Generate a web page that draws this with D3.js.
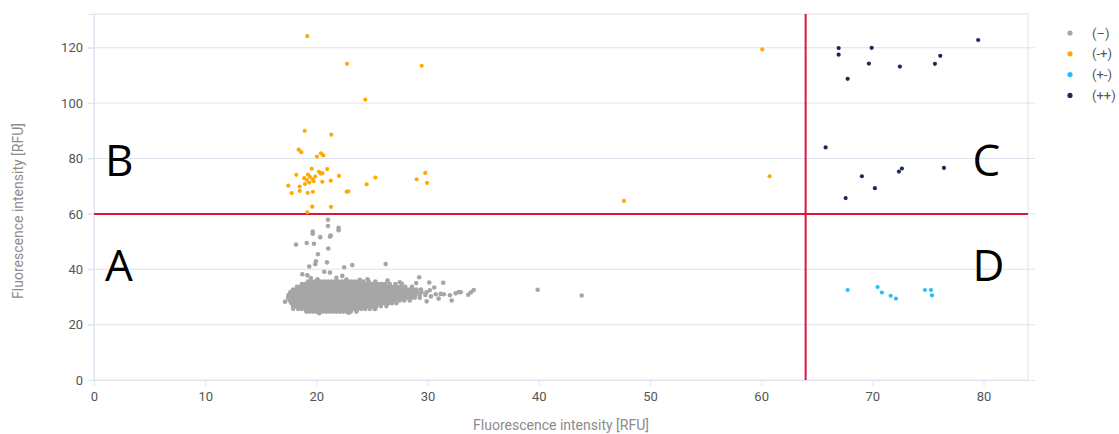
<!DOCTYPE html>
<html>
<head>
<meta charset="utf-8">
<script src="https://cdn.jsdelivr.net/npm/d3@7"></script>
<style>
  html, body { margin: 0; padding: 0; background: #fff; }
  svg { display: block; font-family: Roboto, "Noto Sans", sans-serif; }
</style>
</head>
<body>
<svg id="chart" width="1119" height="434"></svg>
<script>
// Two-channel fluorescence scatter, split into quadrants A–D by threshold lines.

const xTicks = [0, 10, 20, 30, 40, 50, 60, 70, 80];
const yTicks = [0, 20, 40, 60, 80, 100, 120];
const xThreshold = 64;
const yThreshold = 60;

const seriesNames = ["(–)", "(-+)", "(+-)", "(++)"];
const seriesColors = ["#a6a6a6", "#ffaa00", "#1ec3f3", "#1b2a5a"];

// (–) dense population: rows of [y, x values]
const negRows = [
  [24.7, [19.1,19.4,19.7,20.0,20.3,20.6,20.9,21.2,21.5,21.8,22.1,22.4,22.7,23.1,23.6]],
  [25.7, [18.35,18.65,18.95,19.25,19.55,19.85,20.15,20.45,20.75,21.05,21.35,21.65,21.95,22.25,22.55,22.85,23.15,23.45,23.75,24.05,24.4,24.8,25.3]],
  [26.7, [17.9,18.2,18.5,18.8,19.1,19.4,19.7,20.0,20.3,20.6,20.9,21.2,21.5,21.8,22.1,22.4,22.7,23.0,23.3,23.6,23.9,24.2,24.5,24.8,25.1,25.4,25.8,26.3]],
  [27.7, [17.75,18.05,18.35,18.65,18.95,19.25,19.55,19.85,20.15,20.45,20.75,21.05,21.35,21.65,21.95,22.25,22.55,22.85,23.15,23.45,23.75,24.05,24.35,24.65,24.95,25.25,25.55,25.85,26.15,26.45,26.8,27.2]],
  [28.7, [17.6,17.9,18.2,18.5,18.8,19.1,19.4,19.7,20.0,20.3,20.6,20.9,21.2,21.5,21.8,22.1,22.4,22.7,23.0,23.3,23.6,23.9,24.2,24.5,24.8,25.1,25.4,25.7,26.0,26.3,26.6,26.9,27.2,27.5,27.9,28.4]],
  [29.7, [17.45,17.75,18.05,18.35,18.65,18.95,19.25,19.55,19.85,20.15,20.45,20.75,21.05,21.35,21.65,21.95,22.25,22.55,22.85,23.15,23.45,23.75,24.05,24.35,24.65,24.95,25.25,25.55,25.85,26.15,26.45,26.75,27.05,27.35,27.65,27.95,28.25,28.55,28.85,29.3]],
  [30.7, [17.5,17.8,18.1,18.4,18.7,19.0,19.3,19.6,19.9,20.2,20.5,20.8,21.1,21.4,21.7,22.0,22.3,22.6,22.9,23.2,23.5,23.8,24.1,24.4,24.7,25.0,25.3,25.6,25.9,26.2,26.5,26.8,27.1,27.4,27.7,28.0,28.3,28.6,28.9,29.3,29.8]],
  [31.7, [17.65,17.95,18.25,18.55,18.85,19.15,19.45,19.75,20.05,20.35,20.65,20.95,21.25,21.55,21.85,22.15,22.45,22.75,23.05,23.35,23.65,23.95,24.25,24.55,24.85,25.15,25.45,25.75,26.05,26.35,26.65,26.95,27.25,27.55,27.85,28.15,28.45,28.75,29.05,29.45,29.9]],
  [32.7, [17.9,18.2,18.5,18.8,19.1,19.4,19.7,20.0,20.3,20.6,20.9,21.2,21.5,21.8,22.1,22.4,22.7,23.0,23.3,23.6,23.9,24.2,24.5,24.8,25.1,25.4,25.7,26.0,26.3,26.6,26.9,27.2,27.5,27.8,28.1,28.4,28.7,29.0,29.4]],
  [33.7, [18.25,18.55,18.85,19.15,19.45,19.75,20.05,20.35,20.65,20.95,21.25,21.55,21.85,22.15,22.45,22.75,23.05,23.35,23.65,23.95,24.25,24.55,24.85,25.15,25.45,25.75,26.05,26.35,26.65,26.95,27.25,27.6,28.0,28.6]],
  [34.7, [18.7,19.0,19.3,19.6,19.9,20.2,20.5,20.8,21.1,21.4,21.7,22.0,22.3,22.6,22.9,23.2,23.5,23.8,24.1,24.4,24.7,25.0,25.3,25.6,25.9,26.2,26.6,27.1,27.7]],
  [35.6, [19.25,19.55,19.85,20.15,20.45,20.75,21.05,21.35,21.65,21.95,22.25,22.55,22.85,23.15,23.45,23.8,24.2,24.7,25.3]]
];

// (–) scattered events around the main population
const negSparse = [
  [21.04,57.9],[21.04,55.6],[22.0,55.0],[22.0,54.1],[19.67,53.6],[19.67,52.8],
  [20.35,51.6],[21.22,51.8],[21.29,52.2],[18.17,48.9],[19.13,49.5],[19.78,49.2],
  [21.07,47.5],[20.14,45.4],[19.96,42.9],[19.9,41.8],[20.95,42.5],[19.36,41.0],
  [22.5,40.7],[23.23,41.5],[18.73,38.2],[19.18,37.8],[20.71,39.1],[21.22,38.8],
  [22.33,37.6],[26.23,41.9],[19.5,36.8],[21.8,36.9],[24.6,36.4],[20.1,36.4],
  [22.7,36.3],[23.9,36.2],[26.4,35.9],[27.5,35.3],
  [17.18,28.3],[17.5,30.0],[17.92,25.7],[25.22,25.7],[20.26,24.1],[22.9,24.3],
  [29.25,37.1],[30.15,35.2],[31.41,35.1],[28.98,35.0],[29.92,28.4],[30.73,31.0],
  [31.18,31.1],[31.47,31.0],[32.01,30.6],[32.17,28.7],[32.53,31.3],[32.8,31.8],
  [32.98,31.7],[33.66,30.8],[33.9,31.7],[34.15,32.5],[30.3,30.2],[30.6,33.4],
  [31.0,29.4],[30.2,32.4],[39.9,32.6],[43.86,30.5]
];

// (-+) events
const negPos = [
  [19.18,124.2],[22.75,114.2],[29.47,113.5],[24.4,101.3],[18.95,90.0],[21.34,88.6],
  [18.41,83.2],[18.64,82.3],[20.05,80.7],[20.41,81.9],[20.62,81.1],[19.58,76.3],
  [20.98,76.2],[18.19,74.1],[20.23,75.2],[20.39,74.5],[20.53,74.7],[22.03,73.7],
  [19.24,74.2],[18.91,72.9],[19.13,72.3],[19.42,73.4],[19.67,72.5],[19.9,73.5],
  [18.97,70.8],[19.36,71.3],[19.76,71.8],[20.53,71.6],[21.29,72.0],[17.47,70.2],
  [18.5,69.9],[18.5,68.3],[17.78,67.5],[19.22,67.6],[19.69,68.0],[22.72,68.0],
  [22.87,68.1],[24.52,70.7],[25.3,73.1],[29.02,72.5],[29.79,74.8],[29.95,71.2],
  [19.63,62.6],[21.31,62.5],[19.18,60.6],[60.1,119.4],[60.76,73.6],[47.66,64.7]
];

// (+-) events
const posNeg = [
  [67.78,32.5],[70.47,33.6],[70.86,31.6],[71.65,30.4],[72.12,29.4],
  [74.73,32.5],[75.27,32.5],[75.36,30.6]
];

// (++) events
const posPos = [
  [66.97,119.9],[66.97,117.5],[69.94,120.0],[69.69,114.3],[67.78,108.8],
  [72.48,113.2],[75.63,114.2],[76.11,117.1],[79.52,122.8],[65.8,84.0],
  [69.06,73.6],[70.23,69.3],[67.6,65.7],[72.39,75.3],[72.66,76.4],[76.44,76.6]
];

const quadrantLabels = [
  { text: "A", x: 1.0, y: 40.0 },
  { text: "B", x: 1.0, y: 78.0 },
  { text: "C", x: 79.0, y: 78.0 },
  { text: "D", x: 79.0, y: 40.0 }
];

const svg = d3.select("#chart");
const W = 1119, H = 434;
const margin = { left: 94, right: W - 1028, top: 14, bottom: H - 380 };
const x = d3.scaleLinear().domain([0, 84]).range([margin.left, W - margin.right]);
const y = d3.scaleLinear().domain([0, 132.2]).range([H - margin.bottom, margin.top]);

const gridColor = "#e1e2f0";

// horizontal grid lines (with a short overhang on both sides)
svg.append("g")
  .selectAll("line")
  .data(yTicks.filter(d => d > 0))
  .join("line")
  .attr("x1", x(0) - 6).attr("x2", x.range()[1] + 7)
  .attr("y1", d => y(d)).attr("y2", d => y(d))
  .attr("stroke", gridColor).attr("stroke-width", 1);

// plot frame
svg.append("rect")
  .attr("x", x(0)).attr("y", margin.top)
  .attr("width", x.range()[1] - x(0))
  .attr("height", y(0) - margin.top)
  .attr("fill", "none").attr("stroke", gridColor).attr("stroke-width", 1);

// axes
const xAxis = svg.append("g")
  .attr("transform", `translate(0,${y(0)})`)
  .call(d3.axisBottom(x).tickValues(xTicks).tickSize(6).tickPadding(6).tickFormat(d3.format("d")));
const yAxis = svg.append("g")
  .attr("transform", `translate(${x(0)},0)`)
  .call(d3.axisLeft(y).tickValues(yTicks).tickSize(6).tickPadding(5).tickFormat(d3.format("d")));

[xAxis, yAxis].forEach(g => {
  g.select(".domain").attr("stroke", gridColor);
  g.selectAll(".tick line").attr("stroke", gridColor);
  g.selectAll(".tick text")
    .attr("fill", "#555")
    .style("font-family", "Roboto, sans-serif")
    .style("font-size", "13px");
});
xAxis.select(".domain").attr("d", `M${x(0)},0.5H${x.range()[1] + 7}`);

// axis titles
svg.append("text")
  .attr("x", (x(0) + x.range()[1]) / 2).attr("y", 430)
  .attr("text-anchor", "middle")
  .attr("fill", "#8c8c8c").style("font-size", "14px")
  .text("Fluorescence intensity [RFU]");
svg.append("text")
  .attr("transform", `translate(23,${(y(0) + margin.top) / 2 + 14}) rotate(-90)`)
  .attr("text-anchor", "middle")
  .attr("fill", "#8c8c8c").style("font-size", "14px")
  .text("Fluorescence intensity [RFU]");

// threshold lines
const thresholdColor = "#e0133f";
svg.append("line")
  .attr("x1", x(0)).attr("x2", x.range()[1])
  .attr("y1", y(yThreshold)).attr("y2", y(yThreshold))
  .attr("stroke", thresholdColor).attr("stroke-width", 2);
svg.append("line")
  .attr("x1", x(xThreshold)).attr("x2", x(xThreshold))
  .attr("y1", margin.top).attr("y2", y(0))
  .attr("stroke", thresholdColor).attr("stroke-width", 2);

// points
const negPoints = negRows.flatMap(([yv, xs]) => xs.map(xv => [xv, yv])).concat(negSparse);
const groups = [
  { data: negPoints, color: seriesColors[0], r: 2.3 },
  { data: negPos, color: seriesColors[1], r: 2.1 },
  { data: posNeg, color: seriesColors[2], r: 2.1 },
  { data: posPos, color: seriesColors[3], r: 2.1 }
];
groups.forEach(gr => {
  svg.append("g")
    .selectAll("circle")
    .data(gr.data)
    .join("circle")
    .attr("cx", d => x(d[0]))
    .attr("cy", d => y(d[1]))
    .attr("r", gr.r)
    .attr("fill", gr.color);
});

// quadrant letters
svg.append("g")
  .selectAll("text")
  .data(quadrantLabels)
  .join("text")
  .attr("x", d => x(d.x))
  .attr("y", d => y(d.y))
  .attr("dominant-baseline", "middle")
  .attr("fill", "#000")
  .style("font-family", "'Open Sans', 'Noto Sans', sans-serif")
  .style("font-size", "44px")
  .text(d => d.text);

// legend
const legend = svg.append("g").attr("transform", "translate(1070,33)");
const li = legend.selectAll("g")
  .data(seriesNames)
  .join("g")
  .attr("transform", (d, i) => `translate(0,${i * 20.8})`);
li.append("circle").attr("r", 2.6).attr("fill", (d, i) => seriesColors[i]);
li.append("text")
  .attr("x", 22).attr("dy", "0.35em")
  .attr("fill", "#555").style("font-size", "13px")
  .text(d => d);
</script>
</body>
</html>
